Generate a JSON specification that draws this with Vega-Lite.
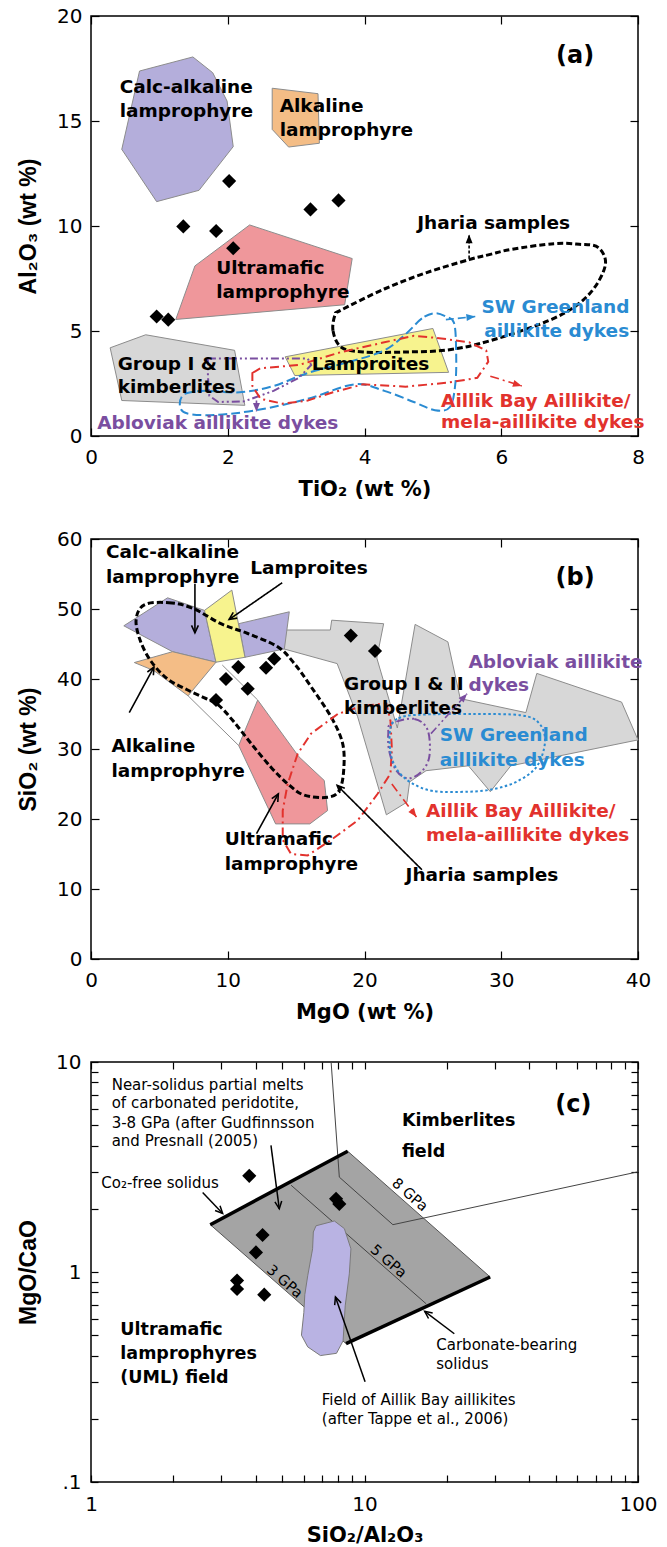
{
"$schema":"https://vega.github.io/schema/vega-lite/v6.json",
"background":"white",
"padding":{"left":16,"top":5,"right":10,"bottom":5},
"config":{
 "view":{"stroke":"black","strokeWidth":1.5},
 "font":"DejaVu Sans",
 "axis":{"domain":false,"grid":false,"ticks":true,"tickColor":"black","tickWidth":1.2,"tickSize":-8,"labelFont":"DejaVu Sans","labelFontSize":20,"labelColor":"black","labelFlush":false,"titleColor":"black","titleFontWeight":"bold"},
 "axisX":{"labelPadding":19,"titleFont":"DejaVu Sans","titleFontSize":21,"titleY":53,"titleBaseline":"middle"},
 "axisY":{"labelPadding":17,"titleFont":"Liberation Sans","titleFontSize":23,"titleX":-63,"titleBaseline":"middle"},
 "text":{"font":"DejaVu Sans"}
},
"datasets":{
"ap":[
{"s":"calc","x":0.71,"y":17.38},{"s":"calc","x":1.49,"y":18.05},{"s":"calc","x":1.78,"y":17.3},{"s":"calc","x":1.99,"y":15.95},{"s":"calc","x":2.08,"y":13.78},{"s":"calc","x":1.58,"y":11.7},{"s":"calc","x":0.96,"y":11.16},{"s":"calc","x":0.45,"y":13.65},
{"s":"alk","x":2.65,"y":16.56},{"s":"alk","x":3.32,"y":16.3},{"s":"alk","x":3.34,"y":13.94},{"s":"alk","x":2.89,"y":13.76},{"s":"alk","x":2.65,"y":14.6},
{"s":"ultra","x":2.32,"y":10.05},{"s":"ultra","x":3.82,"y":8.45},{"s":"ultra","x":3.71,"y":6.25},{"s":"ultra","x":1.24,"y":5.55},{"s":"ultra","x":1.52,"y":8.1},
{"s":"kimb","x":0.28,"y":4.2},{"s":"kimb","x":0.8,"y":4.82},{"s":"kimb","x":2.1,"y":4.08},{"s":"kimb","x":2.25,"y":1.46},{"s":"kimb","x":0.45,"y":1.69},
{"s":"lamp","x":2.84,"y":3.77},{"s":"lamp","x":5.0,"y":5.12},{"s":"lamp","x":5.23,"y":3.03},{"s":"lamp","x":2.98,"y":2.88},
{"s":"jh","x":3.57,"y":5.77},{"s":"jh","x":3.54,"y":5.0},{"s":"jh","x":3.66,"y":4.23},{"s":"jh","x":3.98,"y":4.0},{"s":"jh","x":4.6,"y":4.0},{"s":"jh","x":5.22,"y":4.1},{"s":"jh","x":5.84,"y":4.54},{"s":"jh","x":6.77,"y":5.6},{"s":"jh","x":7.27,"y":6.7},{"s":"jh","x":7.52,"y":8.1},{"s":"jh","x":7.42,"y":8.97},{"s":"jh","x":7.14,"y":9.13},{"s":"jh","x":6.77,"y":9.16},{"s":"jh","x":6.15,"y":8.89},{"s":"jh","x":5.84,"y":8.65},{"s":"jh","x":5.53,"y":8.4},{"s":"jh","x":4.9,"y":7.77},{"s":"jh","x":4.29,"y":7.0},{"s":"jh","x":3.66,"y":6.0},
{"s":"swg","x":5.03,"y":5.85},{"s":"swg","x":4.84,"y":5.6},{"s":"swg","x":4.6,"y":4.85},{"s":"swg","x":4.29,"y":4.08},{"s":"swg","x":3.79,"y":3.54},{"s":"swg","x":3.17,"y":3.0},{"s":"swg","x":2.67,"y":2.38},{"s":"swg","x":2.17,"y":2.08},{"s":"swg","x":1.68,"y":2.15},{"s":"swg","x":1.37,"y":2.0},{"s":"swg","x":1.3,"y":1.46},{"s":"swg","x":1.4,"y":1.08},{"s":"swg","x":1.8,"y":1.0},{"s":"swg","x":2.42,"y":1.23},{"s":"swg","x":3.17,"y":1.77},{"s":"swg","x":3.85,"y":2.46},{"s":"swg","x":4.29,"y":2.15},{"s":"swg","x":4.72,"y":1.62},{"s":"swg","x":5.03,"y":1.23},{"s":"swg","x":5.25,"y":1.38},{"s":"swg","x":5.33,"y":2.54},{"s":"swg","x":5.34,"y":4.08},{"s":"swg","x":5.31,"y":5.38},{"s":"swg","x":5.19,"y":5.69},
{"s":"ablo","x":1.71,"y":3.69},{"s":"ablo","x":3.17,"y":3.69},{"s":"ablo","x":3.22,"y":3.38},{"s":"ablo","x":3.04,"y":2.77},{"s":"ablo","x":2.67,"y":2.15},{"s":"ablo","x":2.24,"y":1.65},{"s":"ablo","x":1.86,"y":1.62},{"s":"ablo","x":1.73,"y":1.92},{"s":"ablo","x":1.71,"y":2.85},
{"s":"aillik","x":2.36,"y":3.0},{"s":"aillik","x":2.48,"y":3.23},{"s":"aillik","x":3.04,"y":3.38},{"s":"aillik","x":3.66,"y":4.0},{"s":"aillik","x":4.29,"y":4.46},{"s":"aillik","x":4.72,"y":4.77},{"s":"aillik","x":5.09,"y":4.66},{"s":"aillik","x":5.53,"y":4.46},{"s":"aillik","x":5.78,"y":4.08},{"s":"aillik","x":5.81,"y":3.54},{"s":"aillik","x":5.65,"y":2.77},{"s":"aillik","x":5.22,"y":2.54},{"s":"aillik","x":4.6,"y":2.35},{"s":"aillik","x":3.98,"y":2.46},{"s":"aillik","x":3.54,"y":2.08},{"s":"aillik","x":3.17,"y":1.69},{"s":"aillik","x":2.8,"y":1.54},{"s":"aillik","x":2.48,"y":1.77},{"s":"aillik","x":2.36,"y":2.38}
],
"ad":[{"x":2.02,"y":12.14},{"x":1.35,"y":9.98},{"x":1.83,"y":9.76},{"x":2.08,"y":8.94},{"x":3.21,"y":10.79},{"x":3.62,"y":11.22},{"x":0.96,"y":5.69},{"x":1.13,"y":5.54}],
"at":[
{"t":"Calc-alkaline","x":0.42,"y":16.6,"g":"k"},{"t":"lamprophyre","x":0.42,"y":15.5,"g":"k"},
{"t":"Alkaline","x":2.76,"y":15.7,"g":"k"},{"t":"lamprophyre","x":2.76,"y":14.55,"g":"k"},
{"t":"Ultramafic","x":1.83,"y":8.0,"g":"k"},{"t":"lamprophyre","x":1.83,"y":6.85,"g":"k"},
{"t":"Group I & II","x":0.39,"y":3.45,"g":"k"},{"t":"kimberlites","x":0.39,"y":2.35,"g":"k"},
{"t":"Lamproites","x":3.23,"y":3.45,"g":"k"},
{"t":"Jharia samples","x":4.77,"y":10.16,"g":"k"},
{"t":"SW Greenland","x":5.71,"y":6.15,"g":"swg"},{"t":"aillikite dykes","x":5.75,"y":5.0,"g":"swg"},
{"t":"Abloviak aillikite dykes","x":0.09,"y":0.62,"g":"ablo"},
{"t":"Aillik Bay Aillikite/","x":5.12,"y":1.69,"g":"aillik"},{"t":"mela-aillikite dykes","x":5.12,"y":0.69,"g":"aillik"}
],
"aa":[
{"g":"kd","x":5.53,"y":8.45,"x2":5.53,"y2":9.6},
{"g":"swg","x":5.19,"y":5.54,"x2":5.62,"y2":5.69},
{"g":"ablo","x":2.42,"y":1.69,"x2":2.42,"y2":1.15},
{"g":"aillik","x":5.84,"y":2.85,"x2":6.3,"y2":2.38}
],
"bp":[
{"s":"calcL","x":2.4,"y":47.6},{"s":"calcL","x":5.6,"y":51.6},{"s":"calcL","x":8.3,"y":49.8},{"s":"calcL","x":9.14,"y":42.4},{"s":"calcL","x":5.96,"y":43.9},
{"s":"orange","x":3.17,"y":42.35},{"s":"orange","x":5.96,"y":43.9},{"s":"orange","x":9.14,"y":42.4},{"s":"orange","x":7.1,"y":37.6},{"s":"orange","x":4.6,"y":41.2},
{"s":"yellow","x":8.3,"y":49.8},{"s":"yellow","x":10.3,"y":52.7},{"s":"yellow","x":11.26,"y":43.1},{"s":"yellow","x":9.14,"y":42.4},
{"s":"calcR","x":10.8,"y":47.9},{"s":"calcR","x":14.5,"y":49.6},{"s":"calcR","x":14.14,"y":44.3},{"s":"calcR","x":11.26,"y":43.1},
{"s":"gray","x":14.0,"y":47.0},{"s":"gray","x":17.5,"y":47.0},{"s":"gray","x":17.6,"y":48.4},{"s":"gray","x":21.4,"y":47.9},{"s":"gray","x":20.9,"y":43.0},{"s":"gray","x":22.4,"y":33.0},{"s":"gray","x":23.7,"y":47.8},{"s":"gray","x":26.1,"y":45.3},{"s":"gray","x":27.0,"y":37.2},{"s":"gray","x":31.8,"y":35.2},{"s":"gray","x":32.6,"y":40.8},{"s":"gray","x":38.8,"y":36.7},{"s":"gray","x":40.0,"y":31.3},{"s":"gray","x":30.7,"y":27.6},{"s":"gray","x":29.2,"y":23.9},{"s":"gray","x":27.6,"y":27.6},{"s":"gray","x":24.5,"y":26.9},{"s":"gray","x":23.3,"y":25.3},{"s":"gray","x":23.1,"y":22.4},{"s":"gray","x":21.6,"y":20.6},{"s":"gray","x":19.5,"y":34.6},{"s":"gray","x":18.0,"y":42.2},{"s":"gray","x":14.1,"y":44.3},
{"s":"pink","x":12.19,"y":37.0},{"s":"pink","x":15.2,"y":28.9},{"s":"pink","x":17.06,"y":25.5},{"s":"pink","x":17.3,"y":21.2},{"s":"pink","x":16.0,"y":19.3},{"s":"pink","x":13.5,"y":19.3},{"s":"pink","x":10.8,"y":30.5},
{"s":"thin1","x":7.1,"y":37.6},{"s":"thin1","x":10.8,"y":30.5},
{"s":"thin2","x":9.6,"y":42.0},{"s":"thin2","x":12.19,"y":37.0},
{"s":"jh","x":3.9,"y":50.6},{"s":"jh","x":5.7,"y":50.9},{"s":"jh","x":7.45,"y":50.1},{"s":"jh","x":9.5,"y":47.9},{"s":"jh","x":11.46,"y":46.5},{"s":"jh","x":13.65,"y":44.6},{"s":"jh","x":14.87,"y":42.2},{"s":"jh","x":16.09,"y":38.9},{"s":"jh","x":17.55,"y":34.6},{"s":"jh","x":18.4,"y":30.8},{"s":"jh","x":18.48,"y":27.0},{"s":"jh","x":18.16,"y":24.1},{"s":"jh","x":17.3,"y":23.1},{"s":"jh","x":15.6,"y":23.4},{"s":"jh","x":14.4,"y":25.0},{"s":"jh","x":13.16,"y":27.4},{"s":"jh","x":11.7,"y":30.8},{"s":"jh","x":10.4,"y":34.0},{"s":"jh","x":9.3,"y":36.3},{"s":"jh","x":8.3,"y":37.3},{"s":"jh","x":7.0,"y":38.5},{"s":"jh","x":5.6,"y":40.0},{"s":"jh","x":4.4,"y":42.5},{"s":"jh","x":3.6,"y":45.5},{"s":"jh","x":3.3,"y":48.5},
{"s":"red","x":18.04,"y":35.0},{"s":"red","x":16.09,"y":32.2},{"s":"red","x":15.11,"y":29.3},{"s":"red","x":14.38,"y":25.0},{"s":"red","x":14.02,"y":21.2},{"s":"red","x":14.02,"y":17.0},{"s":"red","x":14.63,"y":15.0},{"s":"red","x":15.85,"y":14.8},{"s":"red","x":17.55,"y":17.0},{"s":"red","x":19.5,"y":19.8},{"s":"red","x":20.96,"y":23.6},{"s":"red","x":21.9,"y":26.5},{"s":"red","x":22.0,"y":30.0},{"s":"red","x":21.9,"y":34.0},{"s":"red","x":21.6,"y":36.5},{"s":"red","x":19.9,"y":36.2},
{"s":"purple","x":21.94,"y":33.6},{"s":"purple","x":23.64,"y":34.3},{"s":"purple","x":24.62,"y":32.7},{"s":"purple","x":24.74,"y":28.9},{"s":"purple","x":24.13,"y":26.7},{"s":"purple","x":23.16,"y":25.8},{"s":"purple","x":22.3,"y":27.0},{"s":"purple","x":21.8,"y":29.8},{"s":"purple","x":21.74,"y":32.2},
{"s":"blue","x":21.9,"y":33.0},{"s":"blue","x":22.5,"y":34.4},{"s":"blue","x":24.0,"y":34.9},{"s":"blue","x":28.0,"y":35.0},{"s":"blue","x":31.5,"y":34.8},{"s":"blue","x":32.8,"y":33.6},{"s":"blue","x":33.2,"y":31.0},{"s":"blue","x":32.6,"y":27.5},{"s":"blue","x":31.2,"y":25.4},{"s":"blue","x":29.5,"y":24.3},{"s":"blue","x":27.6,"y":23.9},{"s":"blue","x":25.0,"y":24.0},{"s":"blue","x":23.4,"y":25.2},{"s":"blue","x":22.4,"y":27.0},{"s":"blue","x":21.9,"y":29.5}
],
"bd":[{"x":19.0,"y":46.2},{"x":20.77,"y":44.0},{"x":13.4,"y":42.9},{"x":12.8,"y":41.6},{"x":10.77,"y":41.7},{"x":9.87,"y":40.0},{"x":11.46,"y":38.6},{"x":9.14,"y":37.0}],
"bt":[
{"t":"Calc-alkaline","x":1.09,"y":58.1,"g":"k"},{"t":"lamprophyre","x":1.09,"y":54.6,"g":"k"},
{"t":"Lamproites","x":11.65,"y":55.8,"g":"k"},
{"t":"Group I & II","x":18.5,"y":39.3,"g":"k"},{"t":"kimberlites","x":18.5,"y":35.8,"g":"k"},
{"t":"Abloviak aillikite","x":27.6,"y":42.45,"g":"ablo"},{"t":"dykes","x":27.6,"y":39.1,"g":"ablo"},
{"t":"SW Greenland","x":25.5,"y":32.0,"g":"swg"},{"t":"aillikite dykes","x":25.5,"y":28.5,"g":"swg"},
{"t":"Alkaline","x":1.49,"y":30.5,"g":"k"},{"t":"lamprophyre","x":1.49,"y":26.9,"g":"k"},
{"t":"Aillik Bay Aillikite/","x":24.5,"y":21.1,"g":"aillik"},{"t":"mela-aillikite dykes","x":24.5,"y":17.7,"g":"aillik"},
{"t":"Ultramafic","x":9.78,"y":17.2,"g":"k"},{"t":"lamprophyre","x":9.78,"y":13.6,"g":"k"},
{"t":"Jharia samples","x":23.0,"y":12.0,"g":"k"}
],
"ba":[
{"g":"k","x":7.6,"y":53.6,"x2":7.6,"y2":46.6},
{"g":"k","x":13.98,"y":53.75,"x2":10.1,"y2":48.5},
{"g":"k","x":2.8,"y":35.2,"x2":4.6,"y2":41.7},
{"g":"k","x":12.1,"y":17.9,"x2":13.7,"y2":23.6},
{"g":"k","x":24.2,"y":12.75,"x2":18.0,"y2":24.8},
{"g":"ablo","x":24.86,"y":32.2,"x2":27.5,"y2":37.9},
{"g":"aillik","x":22.0,"y":25.0,"x2":23.8,"y2":20.3}
],
"cp":[
{"s":"para","x":2.73,"y":1.68},{"s":"para","x":8.68,"y":3.76},{"s":"para","x":28.8,"y":0.947},{"s":"para","x":8.56,"y":0.456},
{"s":"aill","x":6.65,"y":1.66},{"s":"aill","x":7.76,"y":1.75},{"s":"aill","x":8.44,"y":1.61},{"s":"aill","x":8.92,"y":1.29},{"s":"aill","x":8.8,"y":0.98},{"s":"aill","x":8.5,"y":0.69},{"s":"aill","x":8.35,"y":0.47},{"s":"aill","x":7.9,"y":0.41},{"s":"aill","x":6.9,"y":0.4},{"s":"aill","x":6.2,"y":0.44},{"s":"aill","x":5.88,"y":0.5},{"s":"aill","x":6.0,"y":0.64},{"s":"aill","x":6.05,"y":0.78},{"s":"aill","x":6.2,"y":0.96},{"s":"aill","x":6.46,"y":1.29},{"s":"aill","x":6.5,"y":1.55}
],
"cl":[
{"s":"co2","x":2.73,"y":1.68},{"s":"co2","x":8.68,"y":3.76},
{"s":"carb","x":8.56,"y":0.456},{"s":"carb","x":28.8,"y":0.947},
{"s":"gpa5","x":5.39,"y":2.59},{"s":"gpa5","x":16.8,"y":0.706},
{"s":"kimb","x":7.55,"y":10},{"s":"kimb","x":8.09,"y":2.83},{"s":"kimb","x":12.7,"y":1.68},{"s":"kimb","x":100,"y":3.0}
],
"cd":[{"x":3.79,"y":2.87},{"x":7.87,"y":2.23},{"x":8.09,"y":2.11},{"x":4.24,"y":1.5},{"x":4.01,"y":1.24},{"x":3.42,"y":0.91},{"x":3.42,"y":0.83},{"x":4.3,"y":0.78}],
"ct":[
{"t":"Near-solidus partial melts","x":1.19,"y":7.77,"g":"r"},
{"t":"of carbonated peridotite,","x":1.19,"y":6.38,"g":"r"},
{"t":"3-8 GPa (after Gudfinnsson","x":1.19,"y":5.14,"g":"r"},
{"t":"and Presnall (2005)","x":1.19,"y":4.22,"g":"r"},
{"t":"Co₂-free solidus","x":1.09,"y":2.66,"g":"r"},
{"t":"Carbonate-bearing","x":18.3,"y":0.447,"g":"r"},
{"t":"solidus","x":18.3,"y":0.366,"g":"r"},
{"t":"Field of Aillik Bay aillikites","x":6.98,"y":0.245,"g":"r"},
{"t":"(after Tappe et al., 2006)","x":6.98,"y":0.199,"g":"r"},
{"t":"Kimberlites","x":13.7,"y":5.23,"g":"b"},
{"t":"field","x":13.7,"y":3.72,"g":"b"},
{"t":"Ultramafic","x":1.28,"y":0.527,"g":"b"},
{"t":"lamprophyres","x":1.28,"y":0.408,"g":"b"},
{"t":"(UML) field","x":1.28,"y":0.313,"g":"b"},
{"t":"8 GPa","x":14.6,"y":2.32,"g":"rot"},
{"t":"5 GPa","x":12.2,"y":1.12,"g":"rot"},
{"t":"3 GPa","x":5.09,"y":0.896,"g":"rot"}
],
"ca":[
{"g":"k","x":4.55,"y":4.01,"x2":4.88,"y2":2.0},
{"g":"k","x":2.56,"y":2.39,"x2":3.03,"y2":1.9},
{"g":"k","x":21.3,"y":0.508,"x2":16.6,"y2":0.65},
{"g":"k","x":10.05,"y":0.3,"x2":7.83,"y2":0.76}
]
},
"spacing":103,
"bounds":"flush",
"vconcat":[
{
 "width":547,"height":420,
 "encoding":{
  "x":{"field":"x","type":"quantitative","scale":{"domain":[0,8],"nice":false},"axis":null},
  "y":{"field":"y","type":"quantitative","scale":{"domain":[0,20],"nice":false},"axis":null}
 },
 "resolve":{"axis":{"x":"independent","y":"independent"}},
 "layer":[
  {"data":{"name":"ad"},"mark":{"type":"point","opacity":0},"encoding":{
   "x":{"field":"x","type":"quantitative","scale":{"domain":[0,8],"nice":false},"axis":{"orient":"bottom","values":[0,2,4,6,8],"title":"TiO₂  (wt %)"}},
   "y":{"field":"y","type":"quantitative","scale":{"domain":[0,20],"nice":false},"axis":{"orient":"left","values":[0,5,10,15,20],"title":"Al₂O₃ (wt %)"}}}},
  {"data":{"name":"ad"},"mark":{"type":"point","opacity":0},"encoding":{
   "x":{"field":"x","type":"quantitative","scale":{"domain":[0,8],"nice":false},"axis":{"orient":"top","values":[0,2,4,6,8],"labels":false,"title":null}},
   "y":{"field":"y","type":"quantitative","scale":{"domain":[0,20],"nice":false},"axis":{"orient":"right","values":[0,5,10,15,20],"labels":false,"title":null}}}},
  {"data":{"name":"ap"},"transform":[{"filter":"datum.s==='calc'"}],"mark":{"type":"line","interpolate":"linear-closed","fill":"#b4aedb","stroke":"#8c8c8c","strokeWidth":1},"encoding":{"order":{"value":null}}},
  {"data":{"name":"ap"},"transform":[{"filter":"datum.s==='alk'"}],"mark":{"type":"line","interpolate":"linear-closed","fill":"#f4bd86","stroke":"#8c8c8c","strokeWidth":1},"encoding":{"order":{"value":null}}},
  {"data":{"name":"ap"},"transform":[{"filter":"datum.s==='ultra'"}],"mark":{"type":"line","interpolate":"linear-closed","fill":"#ef979b","stroke":"#8c8c8c","strokeWidth":1},"encoding":{"order":{"value":null}}},
  {"data":{"name":"ap"},"transform":[{"filter":"datum.s==='kimb'"}],"mark":{"type":"line","interpolate":"linear-closed","fill":"#d7d7d7","stroke":"#8c8c8c","strokeWidth":1},"encoding":{"order":{"value":null}}},
  {"data":{"name":"ap"},"transform":[{"filter":"datum.s==='lamp'"}],"mark":{"type":"line","interpolate":"linear-closed","fill":"#f7f38e","stroke":"#8c8c8c","strokeWidth":1},"encoding":{"order":{"value":null}}},
  {"data":{"name":"ap"},"transform":[{"filter":"datum.s==='jh'"}],"mark":{"type":"line","interpolate":"cardinal-closed","stroke":"black","strokeWidth":3,"strokeDash":[6,3]},"encoding":{"order":{"value":null}}},
  {"data":{"name":"ap"},"transform":[{"filter":"datum.s==='swg'"}],"mark":{"type":"line","interpolate":"cardinal-closed","stroke":"#2a8bd2","strokeWidth":2,"strokeDash":[9,4]},"encoding":{"order":{"value":null}}},
  {"data":{"name":"ap"},"transform":[{"filter":"datum.s==='ablo'"}],"mark":{"type":"line","interpolate":"linear-closed","stroke":"#7a4ea0","strokeWidth":2,"strokeDash":[8,3,2,3,2,3]},"encoding":{"order":{"value":null}}},
  {"data":{"name":"ap"},"transform":[{"filter":"datum.s==='aillik'"}],"mark":{"type":"line","interpolate":"linear-closed","stroke":"#e2322d","strokeWidth":2,"strokeDash":[9,4,2,4]},"encoding":{"order":{"value":null}}},
  {"data":{"name":"ad"},"mark":{"type":"point","shape":"diamond","filled":true,"color":"black","size":200,"opacity":1}},
  {"data":{"name":"at"},"mark":{"type":"text","align":"left","baseline":"middle","fontWeight":"bold","fontSize":18.5},"encoding":{"text":{"field":"t"},"color":{"field":"g","type":"nominal","scale":{"domain":["k","kd","swg","ablo","aillik"],"range":["black","black","#2a8bd2","#7a4ea0","#e2322d"]},"legend":null}}},
  {"data":{"values":[{"t":"(a)","x":7.08,"y":18.1}]},"mark":{"type":"text","align":"center","baseline":"middle","fontWeight":"bold","fontSize":24,"color":"black"},"encoding":{"text":{"field":"t"}}},
  {"data":{"name":"aa"},"mark":{"type":"rule","strokeWidth":1.6},"encoding":{"x2":{"field":"x2"},"y2":{"field":"y2"},
   "color":{"field":"g","type":"nominal","scale":{"domain":["k","kd","swg","ablo","aillik"],"range":["black","black","#2a8bd2","#7a4ea0","#e2322d"]},"legend":null},
   "strokeDash":{"field":"g","type":"nominal","scale":{"domain":["k","kd","swg","ablo","aillik"],"range":[[1,0],[3,2],[8,4],[8,3,2,3,2,3],[9,4,2,4]]},"legend":null}}},
  {"data":{"name":"aa"},"transform":[{"calculate":"atan2((datum.x2-datum.x)*68.375,(datum.y2-datum.y)*21)*180/PI","as":"ang"}],
   "mark":{"type":"point","shape":"M-0.55,1.4L0,0L0.55,1.4Z","filled":true,"size":160,"opacity":1},
   "encoding":{"x":{"field":"x2","type":"quantitative","scale":{"domain":[0,8],"nice":false},"axis":null},"y":{"field":"y2","type":"quantitative","scale":{"domain":[0,20],"nice":false},"axis":null},
   "angle":{"field":"ang","type":"quantitative","scale":null},
   "color":{"field":"g","type":"nominal","scale":{"domain":["k","kd","swg","ablo","aillik"],"range":["black","black","#2a8bd2","#7a4ea0","#e2322d"]},"legend":null}}}
 ]
},
{
 "width":547,"height":420,
 "encoding":{
  "x":{"field":"x","type":"quantitative","scale":{"domain":[0,40],"nice":false},"axis":null},
  "y":{"field":"y","type":"quantitative","scale":{"domain":[0,60],"nice":false},"axis":null}
 },
 "resolve":{"axis":{"x":"independent","y":"independent"}},
 "layer":[
  {"data":{"name":"bd"},"mark":{"type":"point","opacity":0},"encoding":{
   "x":{"field":"x","type":"quantitative","scale":{"domain":[0,40],"nice":false},"axis":{"orient":"bottom","values":[0,10,20,30,40],"title":"MgO (wt %)"}},
   "y":{"field":"y","type":"quantitative","scale":{"domain":[0,60],"nice":false},"axis":{"orient":"left","values":[0,10,20,30,40,50,60],"title":"SiO₂ (wt %)"}}}},
  {"data":{"name":"bd"},"mark":{"type":"point","opacity":0},"encoding":{
   "x":{"field":"x","type":"quantitative","scale":{"domain":[0,40],"nice":false},"axis":{"orient":"top","values":[0,10,20,30,40],"labels":false,"title":null}},
   "y":{"field":"y","type":"quantitative","scale":{"domain":[0,60],"nice":false},"axis":{"orient":"right","values":[0,10,20,30,40,50,60],"labels":false,"title":null}}}},
  {"data":{"name":"bp"},"transform":[{"filter":"datum.s==='gray'"}],"mark":{"type":"line","interpolate":"linear-closed","fill":"#d7d7d7","stroke":"#8c8c8c","strokeWidth":1},"encoding":{"order":{"value":null}}},
  {"data":{"name":"bp"},"transform":[{"filter":"datum.s==='calcL'"}],"mark":{"type":"line","interpolate":"linear-closed","fill":"#b4aedb","stroke":"#8c8c8c","strokeWidth":1},"encoding":{"order":{"value":null}}},
  {"data":{"name":"bp"},"transform":[{"filter":"datum.s==='calcR'"}],"mark":{"type":"line","interpolate":"linear-closed","fill":"#b4aedb","stroke":"#8c8c8c","strokeWidth":1},"encoding":{"order":{"value":null}}},
  {"data":{"name":"bp"},"transform":[{"filter":"datum.s==='orange'"}],"mark":{"type":"line","interpolate":"linear-closed","fill":"#f4bd86","stroke":"#8c8c8c","strokeWidth":1},"encoding":{"order":{"value":null}}},
  {"data":{"name":"bp"},"transform":[{"filter":"datum.s==='yellow'"}],"mark":{"type":"line","interpolate":"linear-closed","fill":"#f7f38e","stroke":"#8c8c8c","strokeWidth":1},"encoding":{"order":{"value":null}}},
  {"data":{"name":"bp"},"transform":[{"filter":"datum.s==='pink'"}],"mark":{"type":"line","interpolate":"linear-closed","fill":"#ef979b","stroke":"#8c8c8c","strokeWidth":1},"encoding":{"order":{"value":null}}},
  {"data":{"name":"bp"},"transform":[{"filter":"datum.s==='thin1'||datum.s==='thin2'"}],"mark":{"type":"line","stroke":"#8c8c8c","strokeWidth":1},"encoding":{"order":{"value":null},"detail":{"field":"s"}}},
  {"data":{"name":"bp"},"transform":[{"filter":"datum.s==='jh'"}],"mark":{"type":"line","interpolate":"cardinal-closed","stroke":"black","strokeWidth":3,"strokeDash":[6,3]},"encoding":{"order":{"value":null}}},
  {"data":{"name":"bp"},"transform":[{"filter":"datum.s==='red'"}],"mark":{"type":"line","interpolate":"linear-closed","stroke":"#e2322d","strokeWidth":2,"strokeDash":[9,4,2,4]},"encoding":{"order":{"value":null}}},
  {"data":{"name":"bp"},"transform":[{"filter":"datum.s==='purple'"}],"mark":{"type":"line","interpolate":"cardinal-closed","stroke":"#7a4ea0","strokeWidth":2,"strokeDash":[8,3,2,3,2,3]},"encoding":{"order":{"value":null}}},
  {"data":{"name":"bp"},"transform":[{"filter":"datum.s==='blue'"}],"mark":{"type":"line","interpolate":"cardinal-closed","stroke":"#2a8bd2","strokeWidth":2,"strokeDash":[2.5,2.5]},"encoding":{"order":{"value":null}}},
  {"data":{"name":"bd"},"mark":{"type":"point","shape":"diamond","filled":true,"color":"black","size":200,"opacity":1}},
  {"data":{"name":"bt"},"mark":{"type":"text","align":"left","baseline":"middle","fontWeight":"bold","fontSize":18.5},"encoding":{"text":{"field":"t"},"color":{"field":"g","type":"nominal","scale":{"domain":["k","kd","swg","ablo","aillik"],"range":["black","black","#2a8bd2","#7a4ea0","#e2322d"]},"legend":null}}},
  {"data":{"values":[{"t":"(b)","x":35.4,"y":54.5}]},"mark":{"type":"text","align":"center","baseline":"middle","fontWeight":"bold","fontSize":24,"color":"black"},"encoding":{"text":{"field":"t"}}},
  {"data":{"name":"ba"},"mark":{"type":"rule","strokeWidth":1.6},"encoding":{"x2":{"field":"x2"},"y2":{"field":"y2"},
   "color":{"field":"g","type":"nominal","scale":{"domain":["k","kd","swg","ablo","aillik"],"range":["black","black","#2a8bd2","#7a4ea0","#e2322d"]},"legend":null},
   "strokeDash":{"field":"g","type":"nominal","scale":{"domain":["k","kd","swg","ablo","aillik"],"range":[[1,0],[3,2],[8,4],[8,3,2,3,2,3],[9,4,2,4]]},"legend":null}}},
  {"data":{"name":"ba"},"transform":[{"filter":"datum.g==='k'"},{"calculate":"atan2((datum.x2-datum.x)*13.675,(datum.y2-datum.y)*7)*180/PI","as":"ang"}],
   "mark":{"type":"point","shape":"M-0.6,1.3L0,0L0.6,1.3","filled":false,"size":130,"strokeWidth":1.6,"color":"black","opacity":1},
   "encoding":{"x":{"field":"x2","type":"quantitative","scale":{"domain":[0,40],"nice":false},"axis":null},"y":{"field":"y2","type":"quantitative","scale":{"domain":[0,60],"nice":false},"axis":null},
   "angle":{"field":"ang","type":"quantitative","scale":null}}},
  {"data":{"name":"ba"},"transform":[{"filter":"datum.g!=='k'"},{"calculate":"atan2((datum.x2-datum.x)*13.675,(datum.y2-datum.y)*7)*180/PI","as":"ang"}],
   "mark":{"type":"point","shape":"M-0.55,1.4L0,0L0.55,1.4Z","filled":true,"size":160,"opacity":1},
   "encoding":{"x":{"field":"x2","type":"quantitative","scale":{"domain":[0,40],"nice":false},"axis":null},"y":{"field":"y2","type":"quantitative","scale":{"domain":[0,60],"nice":false},"axis":null},
   "angle":{"field":"ang","type":"quantitative","scale":null},
   "color":{"field":"g","type":"nominal","scale":{"domain":["k","kd","swg","ablo","aillik"],"range":["black","black","#2a8bd2","#7a4ea0","#e2322d"]},"legend":null}}}
 ]
},
{
 "width":547,"height":420,
 "encoding":{
  "x":{"field":"x","type":"quantitative","scale":{"type":"log","domain":[1,100],"nice":false},"axis":null},
  "y":{"field":"y","type":"quantitative","scale":{"type":"log","domain":[0.1,10],"nice":false},"axis":null}
 },
 "resolve":{"axis":{"x":"independent","y":"independent"}},
 "layer":[
  {"data":{"name":"cd"},"mark":{"type":"point","opacity":0},"encoding":{
   "x":{"field":"x","type":"quantitative","scale":{"type":"log","domain":[1,100],"nice":false},"axis":{"orient":"bottom","tickSize":-7,"values":[1,2,3,4,5,6,7,8,9,10,20,30,40,50,60,70,80,90,100],"labelExpr":"datum.value==1||datum.value==10||datum.value==100 ? ''+datum.value : ''","title":"SiO₂/Al₂O₃"}},
   "y":{"field":"y","type":"quantitative","scale":{"type":"log","domain":[0.1,10],"nice":false},"axis":{"orient":"left","tickSize":-7,"values":[0.1,0.2,0.3,0.4,0.5,0.6,0.7,0.8,0.9,1,2,3,4,5,6,7,8,9,10],"labelExpr":"datum.value==0.1 ? '.1' : (datum.value==1||datum.value==10 ? ''+datum.value : '')","title":"MgO/CaO"}}}},
  {"data":{"name":"cd"},"mark":{"type":"point","opacity":0},"encoding":{
   "x":{"field":"x","type":"quantitative","scale":{"type":"log","domain":[1,100],"nice":false},"axis":{"orient":"top","tickSize":-7,"values":[1,2,3,4,5,6,7,8,9,10,20,30,40,50,60,70,80,90,100],"labels":false,"title":null}},
   "y":{"field":"y","type":"quantitative","scale":{"type":"log","domain":[0.1,10],"nice":false},"axis":{"orient":"right","tickSize":-7,"values":[0.1,0.2,0.3,0.4,0.5,0.6,0.7,0.8,0.9,1,2,3,4,5,6,7,8,9,10],"labels":false,"title":null}}}},
  {"data":{"name":"cp"},"transform":[{"filter":"datum.s==='para'"}],"mark":{"type":"line","interpolate":"linear-closed","fill":"#a4a4a4","stroke":"#555555","strokeWidth":1},"encoding":{"order":{"value":null}}},
  {"data":{"name":"cl"},"transform":[{"filter":"datum.s==='gpa5'||datum.s==='kimb'"}],"mark":{"type":"line","stroke":"#444444","strokeWidth":1},"encoding":{"order":{"value":null},"detail":{"field":"s"}}},
  {"data":{"name":"cp"},"transform":[{"filter":"datum.s==='aill'"}],"mark":{"type":"line","interpolate":"linear-closed","fill":"#b9b3e3","stroke":"#7a7a7a","strokeWidth":1},"encoding":{"order":{"value":null}}},
  {"data":{"name":"cl"},"transform":[{"filter":"datum.s==='co2'||datum.s==='carb'"}],"mark":{"type":"line","stroke":"black","strokeWidth":3.5},"encoding":{"order":{"value":null},"detail":{"field":"s"}}},
  {"data":{"name":"cd"},"mark":{"type":"point","shape":"diamond","filled":true,"color":"black","size":200,"opacity":1}},
  {"data":{"name":"ct"},"transform":[{"filter":"datum.g==='r'"}],"mark":{"type":"text","align":"left","baseline":"middle","fontSize":15,"color":"black"},"encoding":{"text":{"field":"t"}}},
  {"data":{"name":"ct"},"transform":[{"filter":"datum.g==='b'"}],"mark":{"type":"text","align":"left","baseline":"middle","fontSize":17.5,"fontWeight":"bold","color":"black"},"encoding":{"text":{"field":"t"}}},
  {"data":{"name":"ct"},"transform":[{"filter":"datum.g==='rot'"}],"mark":{"type":"text","align":"center","baseline":"middle","fontSize":14.5,"angle":41,"color":"black"},"encoding":{"text":{"field":"t"}}},
  {"data":{"values":[{"t":"(c)","x":58,"y":6.27}]},"mark":{"type":"text","align":"center","baseline":"middle","fontWeight":"bold","fontSize":24,"color":"black"},"encoding":{"text":{"field":"t"}}},
  {"data":{"name":"ca"},"mark":{"type":"rule","strokeWidth":1.5,"color":"black"},"encoding":{"x2":{"field":"x2"},"y2":{"field":"y2"}}},
  {"data":{"name":"ca"},"transform":[{"calculate":"atan2((log(datum.x2)-log(datum.x))/LN10*273.5,(log(datum.y2)-log(datum.y))/LN10*210)*180/PI","as":"ang"}],
   "mark":{"type":"point","shape":"M-0.6,1.3L0,0L0.6,1.3","filled":false,"size":130,"strokeWidth":1.5,"color":"black","opacity":1},
   "encoding":{"x":{"field":"x2","type":"quantitative","scale":{"type":"log","domain":[1,100],"nice":false},"axis":null},"y":{"field":"y2","type":"quantitative","scale":{"type":"log","domain":[0.1,10],"nice":false},"axis":null},
   "angle":{"field":"ang","type":"quantitative","scale":null}}}
 ]
}
]
}
